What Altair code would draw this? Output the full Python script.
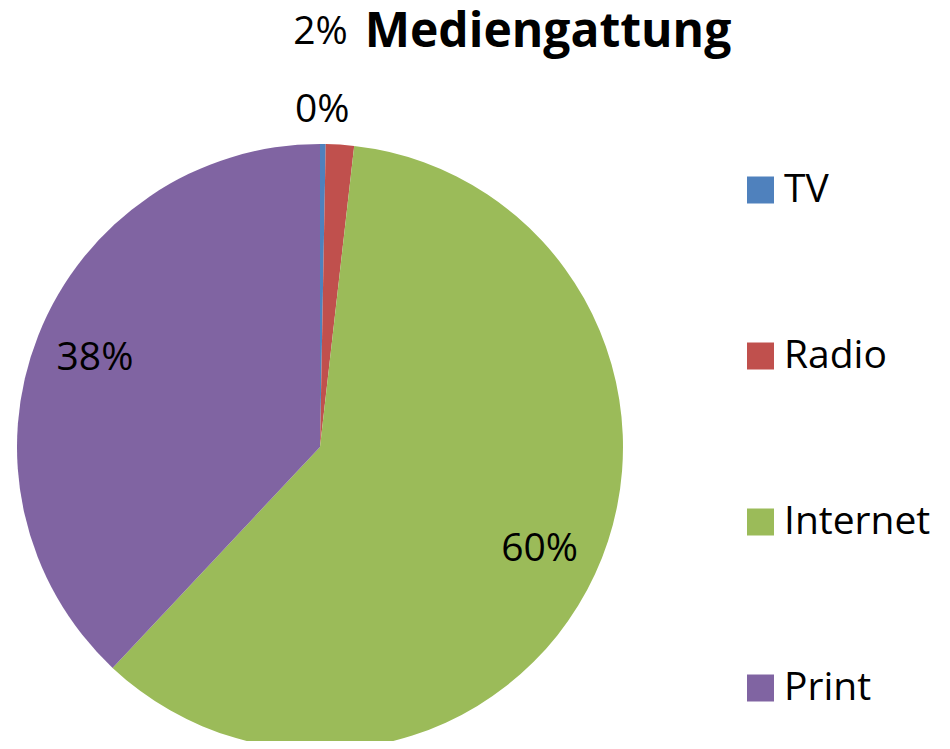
import altair as alt
import pandas as pd

categories = ["TV", "Radio", "Internet", "Print"]
values = [0.3, 1.5, 60.2, 38.0]
labels = ["0%", "2%", "60%", "38%"]
colors = ["#4F81BD", "#C0504D", "#9BBB59", "#8064A2"]
title_text = "Mediengattung"

df = pd.DataFrame({"cat": categories, "val": values, "label": labels,
                   "idx": list(range(len(categories)))})

FONT = "Open Sans"
CX, CY, R = 312, 439, 303
FS = 39

base = alt.Chart(df)
color = alt.Color("cat:N", scale=alt.Scale(domain=categories, range=colors), legend=None)

pie = base.mark_arc(radius=R).encode(
    theta=alt.Theta("val:Q", stack=True),
    order=alt.Order("idx:Q"),
    color=color,
    x=alt.value(CX), y=alt.value(CY),
)

def lbl(cond, radius, dx=0, dy=0):
    return base.mark_text(radius=radius, dx=dx, dy=dy, font=FONT, fontSize=FS,
                          align="center", baseline="middle", color="black").encode(
        theta=alt.Theta("val:Q", stack=True),
        order=alt.Order("idx:Q"),
        text=alt.condition(cond, "label:N", alt.value("")),
        x=alt.value(CX), y=alt.value(CY),
    )

inner = lbl("datum.cat == 'Internet' || datum.cat == 'Print'", 242)
tv_lbl = lbl("datum.cat == 'TV'", 337, dx=-1)
radio_lbl = lbl("datum.cat == 'Radio'", 416, dx=-27)

leg_y = alt.Y("cat:N", sort=categories, scale=alt.Scale(range=[182, 680], padding=0), axis=None)
leg_sym = base.mark_square(size=729, opacity=1).encode(
    y=leg_y, x=alt.value(752.5), color=color)
leg_txt = base.mark_text(align="left", baseline="middle", font=FONT, fontSize=FS,
                         color="black").encode(
    y=leg_y, x=alt.value(776), text="cat:N")

title = alt.Chart(pd.DataFrame({"t": [title_text]})).mark_text(
    font=FONT, fontSize=48, fontWeight="bold", align="center",
    baseline="alphabetic", color="black").encode(
    text="t:N", x=alt.value(540), y=alt.value(39))

chart = alt.layer(pie, inner, tv_lbl, radio_lbl, leg_sym, leg_txt, title).properties(
    width=934, height=733, autosize=alt.AutoSizeParams(type="none"), padding=0
).configure_view(stroke=None)

chart.save("out.html", embed_options={"renderer": "svg", "actions": False})
